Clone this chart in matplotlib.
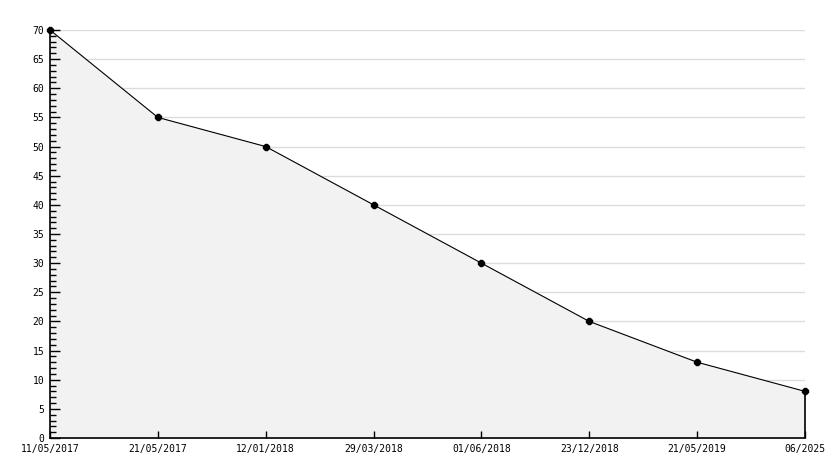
import matplotlib.pyplot as plt
from matplotlib.ticker import MultipleLocator

# --- Data ---
dates = ["11/05/2017", "21/05/2017", "12/01/2018", "29/03/2018",
         "01/06/2018", "23/12/2018", "21/05/2019", "06/2025"]
values = [70, 55, 50, 40, 30, 20, 13, 8]
y_grid = [5, 10, 15, 20, 25, 30, 35, 40, 45, 50, 55, 60, 65, 70]

x = list(range(len(dates)))

plt.rcParams["font.family"] = ["DejaVu Sans Mono"]

fig = plt.figure(figsize=(8.34, 4.68), dpi=100)
ax = fig.add_axes([50 / 834, 30 / 468, 755 / 834, 408 / 468])

# grid under the area, ticks above it
ax.hlines(y_grid, 0, len(dates) - 1, color="#dcdcdc", linewidth=1.0, zorder=0.5)
ax.fill_between(x, values, 0, color="#f2f2f2", zorder=1)
ax.set_axisbelow("line")
ax.plot(x, values, color="black", linewidth=0.8, marker="8",
        markersize=5, zorder=3, clip_on=False)
# closing edge of the area at the last point
ax.vlines(x[-1], 0, values[-1], color="black", linewidth=1.2, zorder=3,
          clip_on=False)

ax.set_xlim(0, len(dates) - 1)
ax.set_ylim(0, 70)
ax.yaxis.set_major_locator(MultipleLocator(5))
ax.yaxis.set_minor_locator(MultipleLocator(1))
ax.set_xticks(x)
ax.set_xticklabels(dates)

for side in ("top", "right"):
    ax.spines[side].set_visible(False)
for side in ("left", "bottom"):
    ax.spines[side].set_linewidth(1.2)
    ax.spines[side].set_zorder(4)

ax.tick_params(axis="y", which="major", direction="in", length=7, width=1,
               labelsize=7, pad=4)
ax.tick_params(axis="y", which="minor", direction="in", length=4, width=1)
ax.tick_params(axis="x", direction="in", length=5, width=1, labelsize=7, pad=4)

fig.savefig("out.png", dpi=100)
